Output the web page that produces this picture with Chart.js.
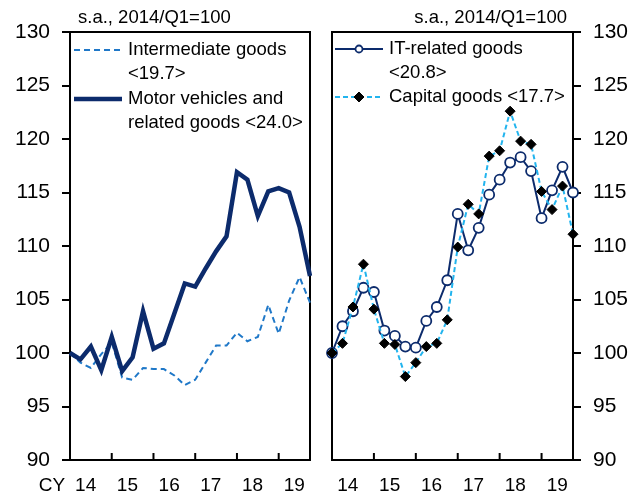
<!DOCTYPE html>
<html>
<head>
<meta charset="utf-8">
<script src="https://cdn.jsdelivr.net/npm/chart.js@4"></script>
<style>
  body { margin: 0; background: #fff; }
  #wrap { position: relative; width: 637px; height: 497px; overflow: hidden; }
  canvas { position: absolute; top: 0; }
</style>
</head>
<body>
<div id="wrap">
  <canvas id="leftChart" width="320" height="497" style="left:0"></canvas>
  <canvas id="rightChart" width="317" height="497" style="left:320px"></canvas>
</div>
<script>
// quarters 2014/Q1 .. 2019/Q4
const quarters = [
  '14Q1','14Q2','14Q3','14Q4','15Q1','15Q2','15Q3','15Q4',
  '16Q1','16Q2','16Q3','16Q4','17Q1','17Q2','17Q3','17Q4',
  '18Q1','18Q2','18Q3','18Q4','19Q1','19Q2','19Q3','19Q4'
];
const yearLabels = ['14', '15', '16', '17', '18', '19'];

// left panel
const intermediate = [100.0, 99.1, 98.6, 99.9, 101.0, 97.7, 97.5, 98.6, 98.5, 98.5, 97.9, 97.0,
                      97.5, 99.1, 100.7, 100.7, 101.9, 101.1, 101.5, 104.5, 101.8, 104.9, 107.1, 104.7];
const motor = [100.0, 99.4, 100.6, 98.4, 101.5, 98.3, 99.6, 103.9, 100.4, 100.9, 103.7, 106.5,
               106.2, 107.9, 109.5, 110.9, 116.9, 116.2, 112.8, 115.1, 115.4, 115.0, 111.8, 107.2];

// right panel
const itRelated = [100.0, 102.5, 103.9, 106.1, 105.7, 102.1, 101.6, 100.6, 100.5, 103.0, 104.3, 106.8,
                   113.0, 109.6, 111.7, 114.8, 116.2, 117.8, 118.3, 117.0, 112.6, 115.2, 117.4, 115.0];
const capital = [100.0, 100.9, 104.3, 108.3, 104.1, 100.9, 100.8, 97.8, 99.1, 100.6, 100.9, 103.1,
                 109.9, 113.9, 113.0, 118.4, 118.9, 122.6, 119.8, 119.5, 115.1, 113.4, 115.6, 111.1];

const FONT = "'Liberation Sans', Arial, sans-serif";
const NAVY = '#0c2b6c';
const MID_BLUE = '#1f78c8';
const CYAN = '#22b4ee';

// frame, year ticks/labels, subtitle and legend for one panel
const panelDecor = {
  id: 'panelDecor',
  beforeDatasetsDraw(chart, args, opts) {
    const { ctx, chartArea: a } = chart;
    ctx.save();
    ctx.strokeStyle = '#000';
    ctx.lineWidth = 2;
    ctx.strokeRect(a.left, a.top, a.right - a.left, a.bottom - a.top);
    const xs = chart.scales.x;
    ctx.beginPath();
    for (let k = 1; k < yearLabels.length; k++) {
      const x = xs.getPixelForValue(4 * k);
      ctx.moveTo(x, a.bottom);
      ctx.lineTo(x, a.bottom - 7);
    }
    ctx.stroke();
    ctx.restore();
  },
  afterDraw(chart, args, opts) {
    const { ctx } = chart;
    const xs = chart.scales.x;
    ctx.save();
    ctx.fillStyle = '#000';
    ctx.textBaseline = 'middle';
    ctx.font = '19px ' + FONT;
    ctx.textAlign = 'center';
    yearLabels.forEach((y, k) => ctx.fillText(y, xs.getPixelForValue(4 * k + 1.5), 486));
    if (opts.cy) ctx.fillText('CY', 52, 486);

    ctx.font = '18.5px ' + FONT;
    ctx.textAlign = opts.subAlign;
    ctx.fillText('s.a., 2014/Q1=100', opts.subX, 18);

    ctx.textAlign = 'left';
    opts.items.forEach(it => {
      const ds = chart.data.datasets[it.ds];
      ctx.save();
      ctx.strokeStyle = ds.borderColor;
      ctx.lineWidth = ds.borderWidth;
      ctx.setLineDash(ds.borderDash || []);
      ctx.beginPath();
      ctx.moveTo(it.x, it.y);
      ctx.lineTo(it.x + 48, it.y);
      ctx.stroke();
      ctx.restore();
      if (ds.pointRadius > 0) {
        const cx = it.x + 24;
        ctx.save();
        ctx.fillStyle = ds.pointBackgroundColor;
        ctx.strokeStyle = ds.pointBorderColor;
        ctx.lineWidth = ds.pointBorderWidth;
        ctx.beginPath();
        if (ds.pointStyle === 'circle') {
          ctx.arc(cx, it.y, ds.pointRadius - 1.5, 0, Math.PI * 2);
        } else {
          const r = ds.pointRadius;
          ctx.moveTo(cx, it.y - r); ctx.lineTo(cx + r, it.y);
          ctx.lineTo(cx, it.y + r); ctx.lineTo(cx - r, it.y);
          ctx.closePath();
        }
        ctx.fill();
        ctx.stroke();
        ctx.restore();
      }
      it.lines.forEach((t, i) => ctx.fillText(t, it.x + 54, it.y + i * 24));
    });
    ctx.restore();
  }
};

function yAxis(pos, width) {
  return {
    position: pos,
    min: 90,
    max: 130,
    ticks: { stepSize: 5, color: '#000', padding: 12, font: { family: FONT, size: 21 } },
    grid: { drawOnChartArea: false, drawTicks: true, tickLength: 8, color: '#000', lineWidth: 2 },
    border: { display: false },
    afterFit: s => { s.width = width; }
  };
}

const xAxis = {
  type: 'category',
  offset: false,
  ticks: { display: false },
  grid: { display: false },
  border: { display: false },
  afterFit: s => { s.height = 37; }
};

new Chart(document.getElementById('leftChart'), {
  type: 'line',
  data: {
    labels: quarters,
    datasets: [
      { label: 'Intermediate goods <19.7>', data: intermediate, borderColor: MID_BLUE, borderWidth: 2,
        borderDash: [6, 4], pointRadius: 0, tension: 0, order: 1 },
      { label: 'Motor vehicles and related goods <24.0>', data: motor, borderColor: NAVY, borderWidth: 4.5,
        pointRadius: 0, tension: 0, order: 0, borderJoinStyle: 'miter' }
    ]
  },
  options: {
    responsive: false,
    animation: false,
    devicePixelRatio: 1,
    layout: { padding: { top: 32, right: 10, left: 0, bottom: 0 } },
    scales: { x: xAxis, y: yAxis('left', 70) },
    plugins: {
      legend: { display: false },
      tooltip: { enabled: false },
      panelDecor: {
        cy: true, subX: 78, subAlign: 'left',
        items: [
          { ds: 0, x: 74, y: 50, lines: ['Intermediate goods', '<19.7>'] },
          { ds: 1, x: 74, y: 99, lines: ['Motor vehicles and', 'related goods <24.0>'] }
        ]
      }
    }
  },
  plugins: [panelDecor]
});

new Chart(document.getElementById('rightChart'), {
  type: 'line',
  data: {
    labels: quarters,
    datasets: [
      { label: 'IT-related goods <20.8>', data: itRelated, borderColor: NAVY, borderWidth: 2,
        pointStyle: 'circle', pointRadius: 5, pointBackgroundColor: '#fff', pointBorderColor: NAVY,
        pointBorderWidth: 1.8, tension: 0, order: 1, clip: 10 },
      { label: 'Capital goods <17.7>', data: capital, borderColor: CYAN, borderWidth: 2,
        borderDash: [5, 3], pointStyle: 'rectRot', pointRadius: 5, pointBackgroundColor: '#000',
        pointBorderColor: '#000', pointBorderWidth: 1, tension: 0, order: 0, clip: 10 }
    ]
  },
  options: {
    responsive: false,
    animation: false,
    devicePixelRatio: 1,
    layout: { padding: { top: 32, right: 0, left: 12, bottom: 0 } },
    scales: { x: xAxis, y: yAxis('right', 64) },
    plugins: {
      legend: { display: false },
      tooltip: { enabled: false },
      panelDecor: {
        cy: false, subX: 247, subAlign: 'right',
        items: [
          { ds: 0, x: 15, y: 49, lines: ['IT-related goods', '<20.8>'] },
          { ds: 1, x: 15, y: 97, lines: ['Capital goods <17.7>'] }
        ]
      }
    }
  },
  plugins: [panelDecor]
});
</script>
</body>
</html>
